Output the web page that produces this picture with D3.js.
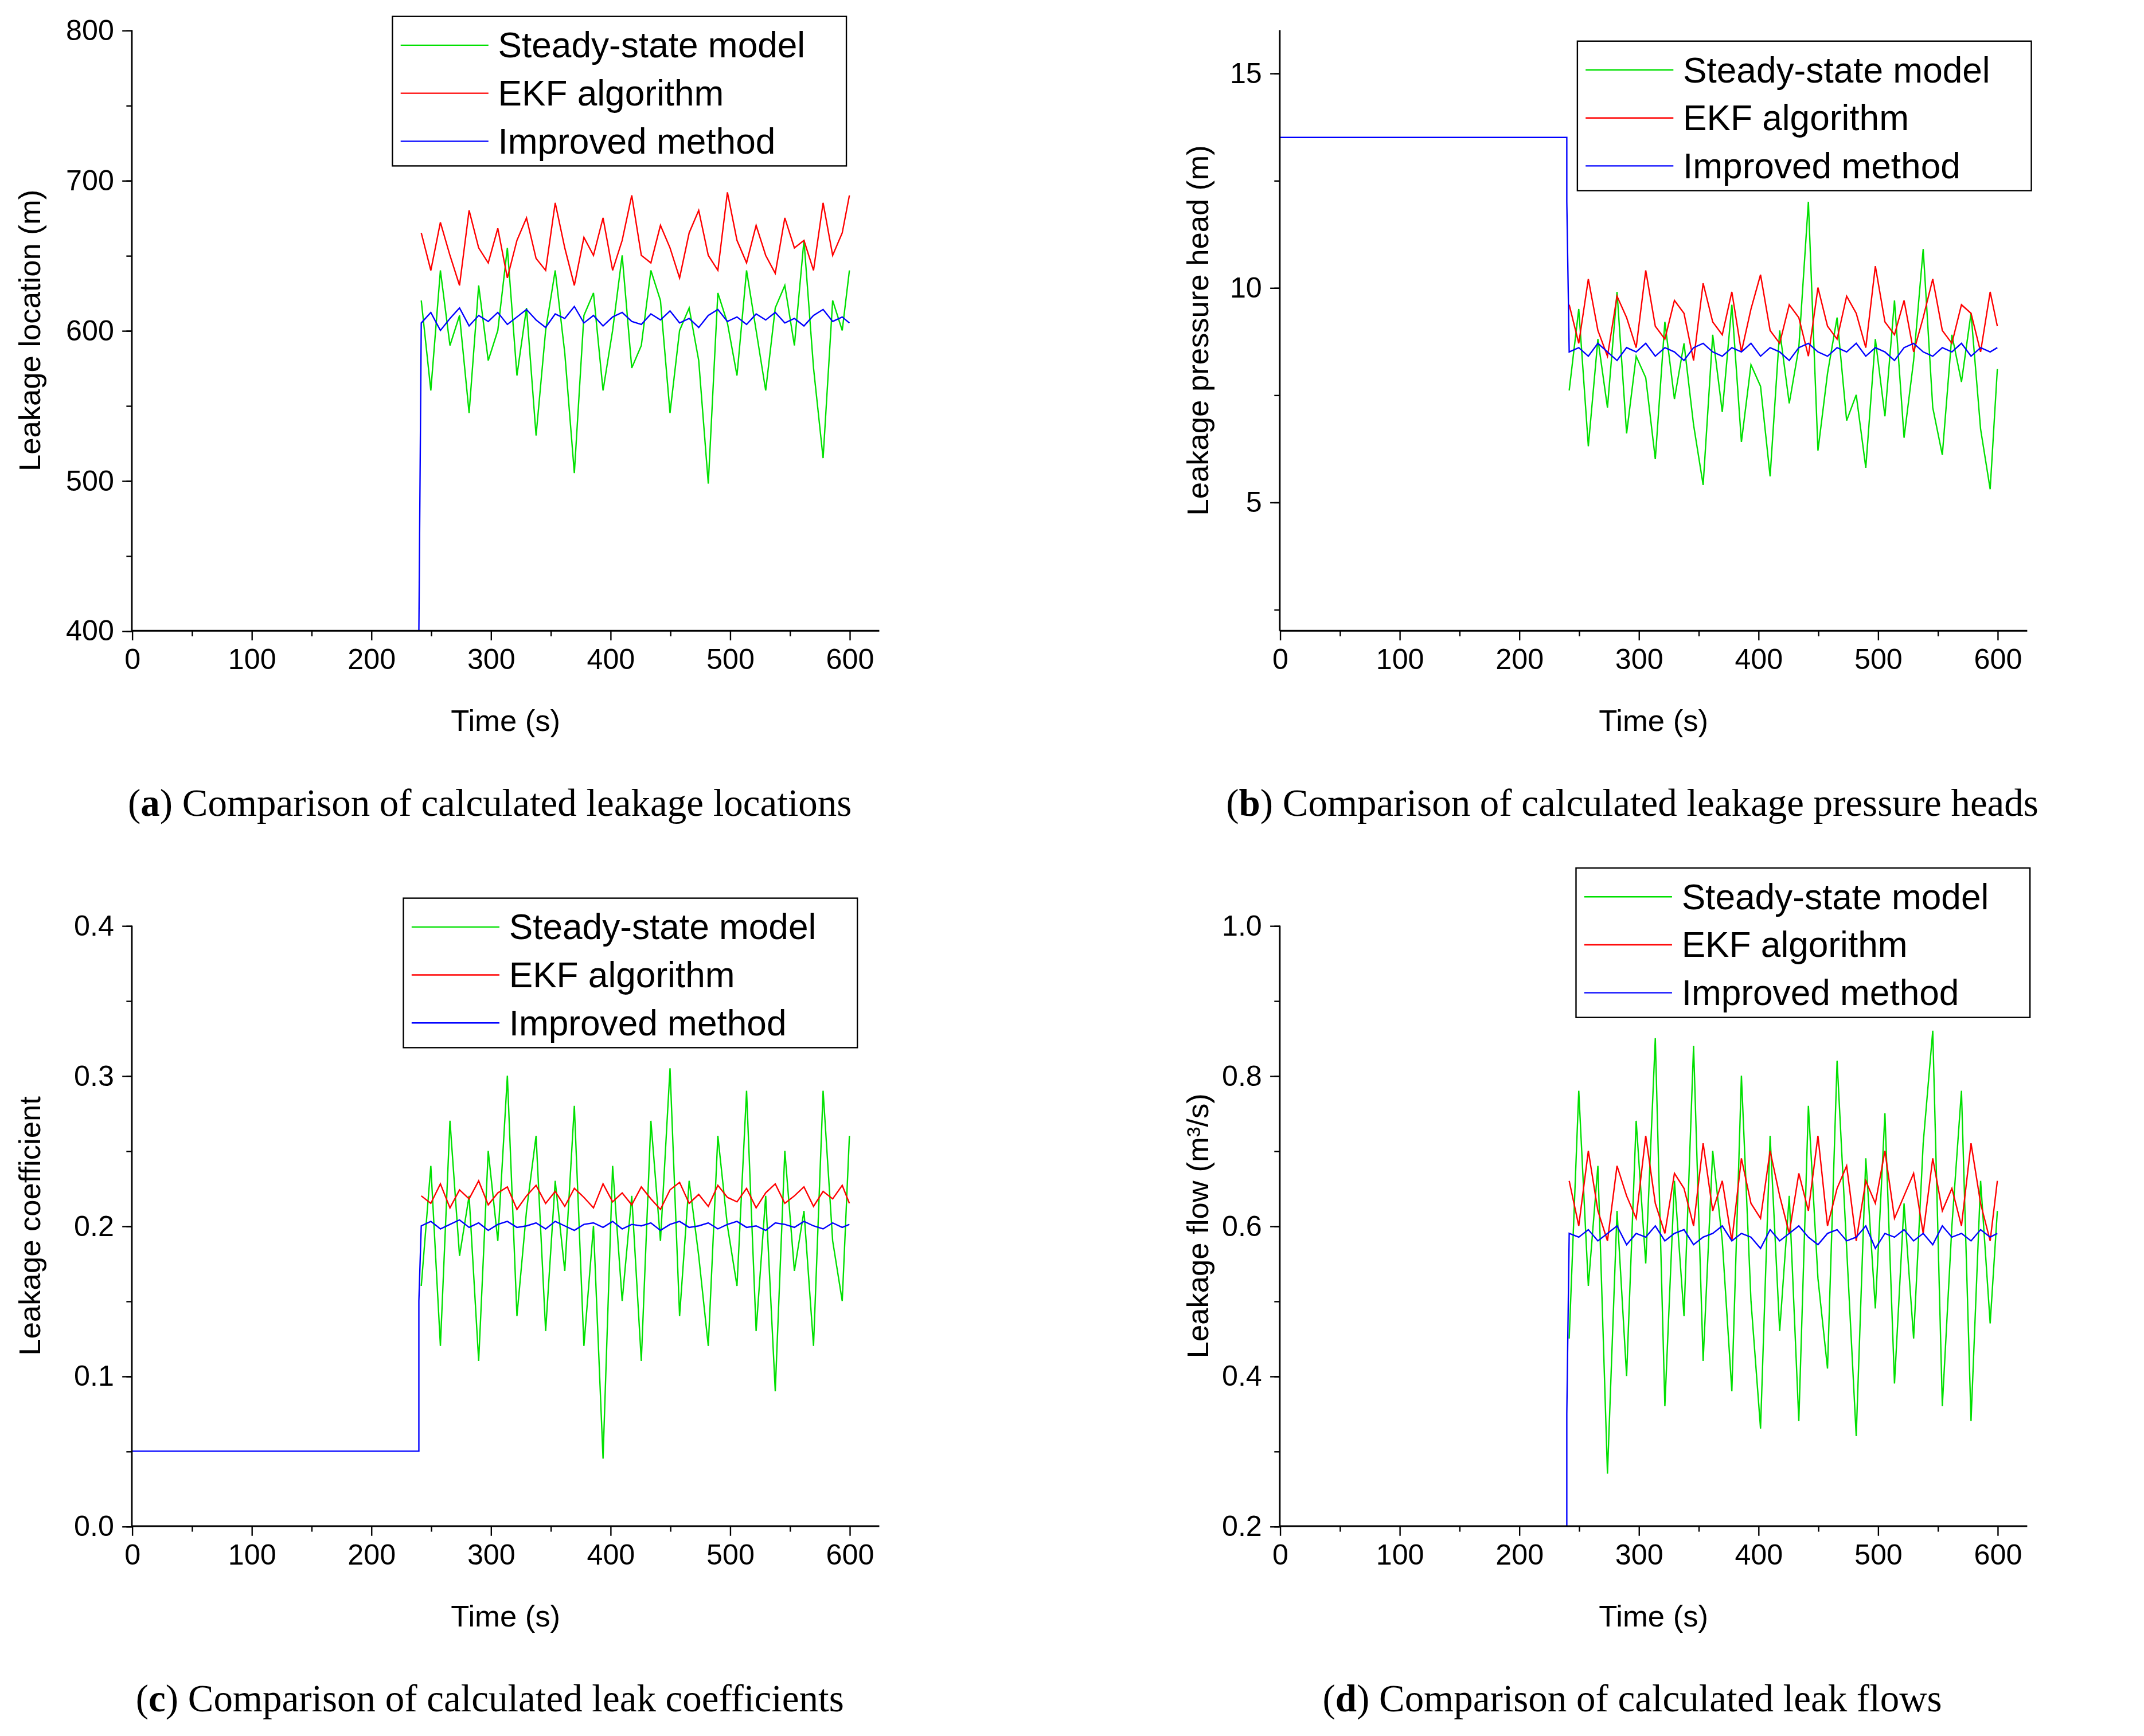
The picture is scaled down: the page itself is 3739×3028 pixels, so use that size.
<!DOCTYPE html>
<html><head><meta charset="utf-8">
<script src="https://cdn.jsdelivr.net/npm/d3@7"></script>
<style>body{margin:0;background:#fff}text{font-family:Arial,"Liberation Sans",sans-serif}</style>
</head><body>
<svg id="c" width="3739" height="3028" viewBox="0 0 1563 1266"></svg>
<script>
// sample times after the leak starts (s)
const times = [242,250,258,266,274,282,290,298,306,314,322,330,338,346,354,362,370,378,386,394,402,410,418,426,434,442,450,458,466,474,482,490,498,506,514,522,530,538,546,554,562,570,578,586,594,600];

// (a) leakage location
const locSteady = [620,560,640,590,610,545,630,580,600,655,570,615,530,600,640,585,505,610,625,560,600,650,575,590,640,620,545,600,615,580,498,625,605,570,640,600,560,615,630,590,660,575,515,620,600,640];
const locEkf = [665,640,672,650,630,680,655,645,668,635,660,675,648,640,685,655,630,662,650,675,640,660,690,650,645,670,655,635,665,680,650,640,692,660,645,670,650,638,675,655,660,640,685,650,665,690];
const locImproved = [605,612,600,608,615,603,610,606,612,604,609,614,607,602,611,608,616,605,610,603,609,612,606,604,611,607,613,605,608,602,610,614,606,609,604,611,607,612,605,608,603,610,614,606,609,605];

// (b) leakage pressure head
const headSteady = [7.6,9.5,6.3,8.8,7.2,9.9,6.6,8.4,7.9,6.0,9.2,7.4,8.7,6.8,5.4,8.9,7.1,9.6,6.4,8.2,7.7,5.6,9.0,7.3,8.6,12.0,6.2,8.0,9.3,6.9,7.5,5.8,8.8,7.0,9.7,6.5,8.3,10.9,7.2,6.1,8.9,7.8,9.4,6.7,5.3,8.1];
const headEkf = [9.6,8.7,10.2,9.0,8.4,9.8,9.3,8.6,10.4,9.1,8.8,9.7,9.4,8.3,10.1,9.2,8.9,9.9,8.5,9.5,10.3,9.0,8.7,9.6,9.3,8.4,10.0,9.1,8.8,9.8,9.4,8.6,10.5,9.2,8.9,9.7,8.5,9.3,10.2,9.0,8.7,9.6,9.4,8.5,9.9,9.1];
const headImproved = [8.5,8.6,8.4,8.7,8.5,8.3,8.6,8.5,8.7,8.4,8.6,8.5,8.3,8.6,8.7,8.5,8.4,8.6,8.5,8.7,8.4,8.6,8.5,8.3,8.6,8.7,8.5,8.4,8.6,8.5,8.7,8.4,8.6,8.5,8.3,8.6,8.7,8.5,8.4,8.6,8.5,8.7,8.4,8.6,8.5,8.6];

// (c) leakage coefficient
const coefSteady = [0.16,0.24,0.12,0.27,0.18,0.22,0.11,0.25,0.19,0.30,0.14,0.21,0.26,0.13,0.23,0.17,0.28,0.12,0.20,0.045,0.24,0.15,0.22,0.11,0.27,0.19,0.305,0.14,0.23,0.18,0.12,0.26,0.20,0.16,0.29,0.13,0.22,0.09,0.25,0.17,0.21,0.12,0.29,0.19,0.15,0.26];
const coefEkf = [0.22,0.215,0.228,0.212,0.224,0.218,0.230,0.214,0.222,0.226,0.211,0.220,0.227,0.215,0.223,0.213,0.225,0.219,0.212,0.228,0.216,0.222,0.214,0.226,0.218,0.211,0.224,0.229,0.215,0.221,0.213,0.227,0.219,0.216,0.225,0.212,0.222,0.228,0.215,0.220,0.226,0.213,0.223,0.218,0.227,0.215];
const coefImproved = [0.200,0.203,0.198,0.201,0.204,0.199,0.202,0.197,0.201,0.203,0.199,0.200,0.202,0.198,0.203,0.200,0.197,0.201,0.202,0.199,0.203,0.198,0.201,0.200,0.202,0.197,0.201,0.203,0.199,0.200,0.202,0.198,0.201,0.203,0.199,0.200,0.197,0.202,0.201,0.199,0.203,0.200,0.198,0.202,0.199,0.201];

// (d) leakage flow
const flowSteady = [0.45,0.78,0.52,0.68,0.27,0.62,0.40,0.74,0.55,0.85,0.36,0.66,0.48,0.84,0.42,0.70,0.58,0.38,0.80,0.50,0.33,0.72,0.46,0.64,0.34,0.76,0.53,0.41,0.82,0.57,0.32,0.69,0.49,0.75,0.39,0.63,0.45,0.71,0.86,0.36,0.60,0.78,0.34,0.66,0.47,0.62];
const flowEkf = [0.66,0.60,0.70,0.62,0.58,0.68,0.64,0.61,0.72,0.63,0.59,0.67,0.65,0.60,0.71,0.62,0.66,0.58,0.69,0.63,0.61,0.70,0.64,0.59,0.67,0.62,0.72,0.60,0.65,0.68,0.58,0.66,0.63,0.70,0.61,0.64,0.67,0.59,0.69,0.62,0.65,0.60,0.71,0.63,0.58,0.66];
const flowImproved = [0.59,0.585,0.595,0.58,0.59,0.60,0.575,0.59,0.585,0.60,0.58,0.59,0.595,0.575,0.585,0.59,0.60,0.58,0.59,0.585,0.57,0.595,0.58,0.59,0.60,0.585,0.575,0.59,0.595,0.58,0.585,0.60,0.57,0.59,0.585,0.595,0.58,0.59,0.575,0.60,0.585,0.59,0.58,0.595,0.585,0.59];

const legendNames = ["Steady-state model", "EKF algorithm", "Improved method"];
const colors = ["#00e000", "#ff0000", "#0000ff"];

const panels = [
  {x: 96, y: 22, domain: [400, 800], ticks: [400,500,600,700,800], minor: 50, fmt: d => d,
   ylab: "Leakage location (m)", series: [locSteady, locEkf, locImproved],
   lead: [[240,400],[242,605]], legend: [286, 12], letter: "a", cap: " Comparison of calculated leakage locations", capX: 357},
  {x: 933, y: 22, domain: [2, 16], ticks: [5,10,15], minor: 2.5, fmt: d => d,
   ylab: "Leakage pressure head (m)", series: [headSteady, headEkf, headImproved],
   lead: [[0,13.5],[240,13.5],[240,12],[242,8.5]], legend: [1150, 30], letter: "b", cap: " Comparison of calculated leakage pressure heads", capX: 1190},
  {x: 96, y: 675, domain: [0, 0.4], ticks: [0,0.1,0.2,0.3,0.4], minor: 0.05, fmt: d3.format(".1f"),
   ylab: "Leakage coefficient", series: [coefSteady, coefEkf, coefImproved],
   lead: [[0,0.05],[240,0.05],[240,0.15],[242,0.2]], legend: [294, 655], letter: "c", cap: " Comparison of calculated leak coefficients", capX: 357},
  {x: 933, y: 675, domain: [0.2, 1.0], ticks: [0.2,0.4,0.6,0.8,1.0], minor: 0.1, fmt: d3.format(".1f"),
   ylab: "Leakage flow (m³/s)", series: [flowSteady, flowEkf, flowImproved],
   lead: [[240,0.2],[240,0.35],[242,0.59]], legend: [1149, 633], letter: "d", cap: " Comparison of calculated leak flows", capX: 1190}
];

const svg = d3.select("#c");
const W = 545, H = 438;

panels.forEach(p => {
  const g = svg.append("g").attr("transform", `translate(${p.x},${p.y})`);
  const x = d3.scaleLinear().domain([0, 625]).range([0, W]);
  const y = d3.scaleLinear().domain(p.domain).range([H, 0]);

  const clip = "clip" + p.letter;
  g.append("clipPath").attr("id", clip).append("rect").attr("width", W).attr("height", H);
  const plot = g.append("g").attr("clip-path", `url(#${clip})`);
  const line = d3.line().x(d => x(d[0])).y(d => y(d[1]));

  p.series.forEach((s, i) => {
    let pts = times.map((t, j) => [t, s[j]]);
    if (i === 2) pts = p.lead.concat(pts.slice(1));
    plot.append("path").datum(pts).attr("d", line).attr("fill", "none")
      .attr("stroke", colors[i]).attr("stroke-width", 1);
  });

  // axes
  const xMinor = d3.range(50, 625, 100);
  const yMinor = d3.range(Math.ceil(p.domain[0] / p.minor) * p.minor, p.domain[1] + 1e-9, p.minor);
  const xa = g.append("g").attr("transform", `translate(0,${H})`)
    .call(d3.axisBottom(x).tickValues([0,100,200,300,400,500,600]).tickSize(7).tickPadding(6));
  g.append("g").attr("transform", `translate(0,${H})`)
    .call(d3.axisBottom(x).tickValues(xMinor).tickSize(4).tickFormat("")).select(".domain").remove();
  const ya = g.append("g")
    .call(d3.axisLeft(y).tickValues(p.ticks).tickFormat(p.fmt).tickSize(7).tickPadding(6));
  g.append("g").call(d3.axisLeft(y).tickValues(yMinor).tickSize(4).tickFormat("")).select(".domain").remove();
  xa.select(".domain").attr("d", `M0,0H${W}`).attr("stroke-width", 1.2);
  ya.select(".domain").attr("d", `M0,0V${H}`).attr("stroke-width", 1.2);
  g.selectAll(".tick text").attr("font-size", 21).attr("fill", "#000");
  g.selectAll(".tick line").attr("stroke", "#000");

  g.append("text").attr("x", W / 2).attr("y", H + 73).attr("text-anchor", "middle")
    .attr("font-size", 22).text("Time (s)");
  g.append("text").attr("transform", `translate(${p.letter === "a" || p.letter === "c" ? -67 : -52},${H / 2}) rotate(-90)`)
    .attr("text-anchor", "middle").attr("font-size", 22).text(p.ylab);

  // legend
  const lg = svg.append("g").attr("transform", `translate(${p.legend[0]},${p.legend[1]})`);
  lg.append("rect").attr("width", 331).attr("height", 109).attr("fill", "#fff").attr("stroke", "#000");
  legendNames.forEach((n, i) => {
    const yy = 21 + i * 35;
    lg.append("line").attr("x1", 6).attr("x2", 70).attr("y1", yy).attr("y2", yy).attr("stroke", colors[i]);
    lg.append("text").attr("x", 77).attr("y", yy + 9).attr("font-size", 26).text(n);
  });

  // caption
  const cap = svg.append("text").attr("x", p.capX).attr("y", p.y + 573).attr("text-anchor", "middle")
    .style("font-family", "'Liberation Serif','DejaVu Serif',serif").attr("font-size", 28);
  cap.append("tspan").text("(");
  cap.append("tspan").attr("font-weight", "bold").text(p.letter);
  cap.append("tspan").text(")" + p.cap);
});
</script>
</body></html>
